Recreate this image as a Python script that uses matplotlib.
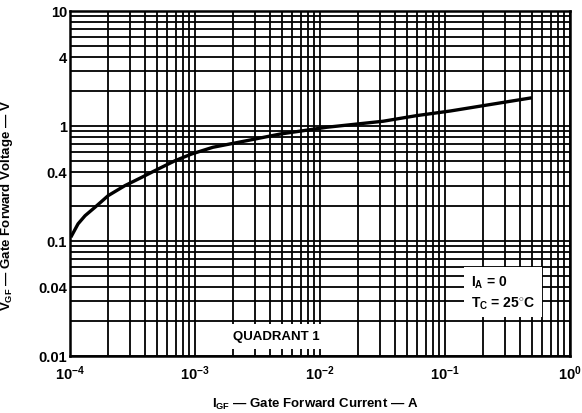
import matplotlib
matplotlib.use("Agg")
import matplotlib.pyplot as plt
from matplotlib.ticker import FixedLocator, FixedFormatter, LogLocator, NullFormatter

plt.rcParams['font.family'] = ['Liberation Sans', 'DejaVu Sans']
plt.rcParams['font.weight'] = 'bold'
plt.rcParams['axes.labelweight'] = 'bold'
plt.rcParams['mathtext.fontset'] = 'custom'
plt.rcParams['mathtext.rm'] = 'Liberation Sans:bold'
plt.rcParams['mathtext.it'] = 'Liberation Sans:bold'
plt.rcParams['mathtext.bf'] = 'Liberation Sans:bold'

# --- data ---
gate_current = [1.03e-4, 1.16e-4, 1.32e-4, 1.58e-4, 2.02e-4, 2.75e-4, 3.75e-4,
                5.08e-4, 6.92e-4, 9.4e-4, 1.39e-3, 2.59e-3, 4.79e-3, 1.13e-2,
                3.2e-2, 5.9e-2, 0.11, 0.20, 0.48]
gate_voltage = [0.111, 0.141, 0.166, 0.196, 0.248, 0.303, 0.358,
                0.423, 0.499, 0.571, 0.653, 0.745, 0.851, 0.975,
                1.10, 1.23, 1.35, 1.50, 1.75]

x_ticks = [1e-4, 1e-3, 1e-2, 1e-1, 1]
x_tick_labels = [r'$10^{-4}$', r'$10^{-3}$', r'$10^{-2}$', r'$10^{-1}$', r'$10^{0}$']
y_ticks = [0.01, 0.04, 0.1, 0.4, 1, 4, 10]
y_tick_labels = ['0.01', '0.04', '0.1', '0.4', '1', '4', '10']

fig = plt.figure(figsize=(5.82, 4.14), dpi=100)
ax = fig.add_axes([70 / 582, 1 - 357 / 414, 500 / 582, 345 / 414])
ax.set_xscale('log')
ax.set_yscale('log')
ax.set_xlim(1e-4, 1)
ax.set_ylim(0.01, 10)

# dense chart-paper grid
ax.xaxis.set_major_locator(FixedLocator(x_ticks))
ax.xaxis.set_major_formatter(FixedFormatter(x_tick_labels))
ax.xaxis.set_minor_locator(LogLocator(base=10, subs=range(2, 10)))
ax.xaxis.set_minor_formatter(NullFormatter())
ax.yaxis.set_major_locator(FixedLocator(y_ticks))
ax.yaxis.set_major_formatter(FixedFormatter(y_tick_labels))
ax.yaxis.set_minor_locator(LogLocator(base=10, subs=range(2, 10)))
ax.yaxis.set_minor_formatter(NullFormatter())
ax.grid(True, which='both', color='black', linewidth=1.3)
ax.tick_params(which='both', length=0)
ax.tick_params(axis='x', pad=5, labelsize=10.5)
ax.tick_params(axis='y', pad=2, labelsize=10.5)
for s in ax.spines.values():
    s.set_linewidth(1.8)

ax.plot(gate_current, gate_voltage, color='black', linewidth=2.4, zorder=4,
        solid_joinstyle='round')

ax.text(4.5e-3, 0.0148, 'QUADRANT 1', ha='center', va='center', fontsize=9.5,
        zorder=5, bbox=dict(facecolor='white', edgecolor='none', pad=4.5))
ax.text(0.16, 0.036, '$I_{A}$ = 0\n$T_{C}$ = 25$^{\\circ}$C', ha='left', va='center',
        fontsize=10, linespacing=1.3, zorder=5,
        bbox=dict(facecolor='white', edgecolor='none', pad=5))

ax.set_xlabel(r'$I_{GF}$ — Gate Forward Current — A', fontsize=9.5)
ax.xaxis.set_label_coords(0.49, -0.116)
ax.set_ylabel(r'$V_{GF}$ — Gate Forward Voltage — V', fontsize=9.5)
ax.yaxis.set_label_coords(-0.11, 0.44)

fig.savefig('out.png', dpi=100)
